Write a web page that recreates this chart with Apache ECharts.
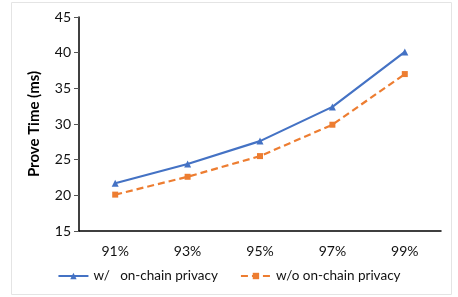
<!DOCTYPE html>
<html>
<head>
<meta charset="utf-8">
<script src="https://cdn.jsdelivr.net/npm/echarts@6/dist/echarts.min.js"></script>
<style>
  html, body { margin: 0; padding: 0; background: #fff; }
  #chart { width: 458px; height: 297px; }
</style>
</head>
<body>
<div id="chart"></div>
<script>
// data
var categories = ['91%', '93%', '95%', '97%', '99%'];
var withPrivacy = [21.7, 24.4, 27.6, 32.4, 40.1];
var withoutPrivacy = [20.1, 22.6, 25.5, 29.9, 37.0];

var font = 'Lato, "Open Sans", sans-serif';
var myChart = echarts.init(document.getElementById('chart'));
var option = {
  animation: false,
  graphic: [{
    type: 'rect',
    shape: { x: 11.5, y: 2.5, width: 440, height: 292 },
    style: { fill: 'none', stroke: '#e4e4e4', lineWidth: 1 },
    silent: true
  }],
  grid: { left: 79, right: 17, top: 17, bottom: 66 },
  legend: {
    bottom: 9,
    left: 'center',
    itemWidth: 30,
    itemHeight: 8,
    itemGap: 22,
    textStyle: { fontFamily: font, fontSize: 13.5, color: '#111' },
    data: ['w/   on-chain privacy', 'w/o on-chain privacy']
  },
  xAxis: {
    type: 'category',
    data: categories,
    boundaryGap: true,
    axisLine: { lineStyle: { color: '#000', width: 1.5 } },
    axisTick: { show: false },
    axisLabel: { fontFamily: font, fontSize: 14, color: '#111', margin: 13 }
  },
  yAxis: {
    type: 'value',
    min: 15,
    max: 45,
    interval: 5,
    name: 'Prove Time (ms)',
    nameLocation: 'middle',
    nameGap: 37,
    nameTextStyle: { fontFamily: font, fontSize: 15, fontWeight: 'bold', color: '#000' },
    axisLine: { show: true, lineStyle: { color: '#000', width: 1.5 } },
    axisTick: { show: true, length: 5, lineStyle: { color: '#555' } },
    splitLine: { show: false },
    axisLabel: { fontFamily: font, fontSize: 14, color: '#111', margin: 8 }
  },
  series: [{
    name: 'w/   on-chain privacy',
    type: 'line',
    data: withPrivacy,
    symbol: 'triangle',
    symbolSize: 7,
    lineStyle: { color: '#4472C4', width: 2.2 },
    itemStyle: { color: '#4472C4' }
  }, {
    name: 'w/o on-chain privacy',
    type: 'line',
    data: withoutPrivacy,
    symbol: 'rect',
    symbolSize: 6,
    lineStyle: { color: '#ED7D31', width: 2.2, type: [7, 4] },
    itemStyle: { color: '#ED7D31' }
  }]
};
myChart.setOption(option);
</script>
</body>
</html>
